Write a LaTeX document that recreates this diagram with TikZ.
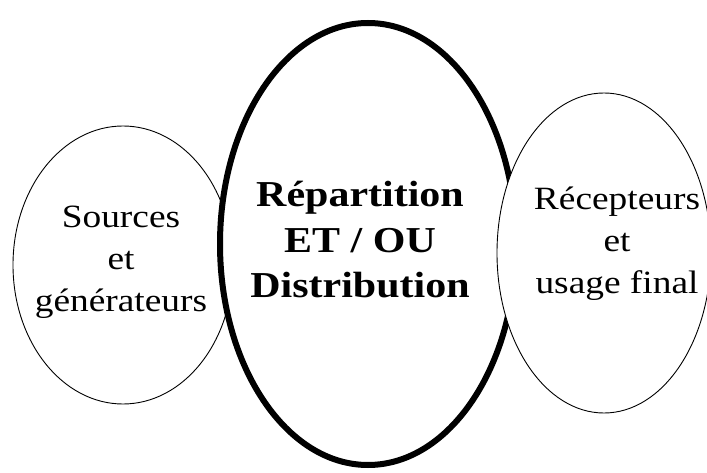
\documentclass[tikz,border=0pt]{standalone}
\usepackage{fontspec}
\setmainfont[FakeStretch=1.15]{Liberation Serif}
\usetikzlibrary{shapes.geometric}
\begin{document}
\begin{tikzpicture}[x=1pt, y=-1pt,
  ring/.style={draw, ellipse, fill=white, line width=0.9pt, inner sep=0pt, outer sep=0pt},
  hub/.style={ring, line width=6pt},
  txt/.style={align=center, anchor=base, inner sep=0pt, font=\fontsize{32.5}{42}\selectfont},
  boldtxt/.style={txt, font=\fontsize{36.5}{45.5}\selectfont\bfseries}
]
\useasboundingbox (0,0) rectangle (707,473);
\node[ring, minimum width=220pt, minimum height=278pt] (src)  at (123,265) {};
\node[hub,  minimum width=296pt, minimum height=442pt] (dist) at (368,244) {};
\node[ring, minimum width=214pt, minimum height=320pt] (rcv)  at (604,253) {};
\node[txt]     (srctxt)  at (121,311) {Sources\\et\\générateurs};
\node[boldtxt] (disttxt) at (360,298) {Répartition\\ET / OU\\Distribution};
\node[txt]     (rcvtxt)  at (617,293) {Récepteurs\\et\\usage final};
\end{tikzpicture}
\end{document}
